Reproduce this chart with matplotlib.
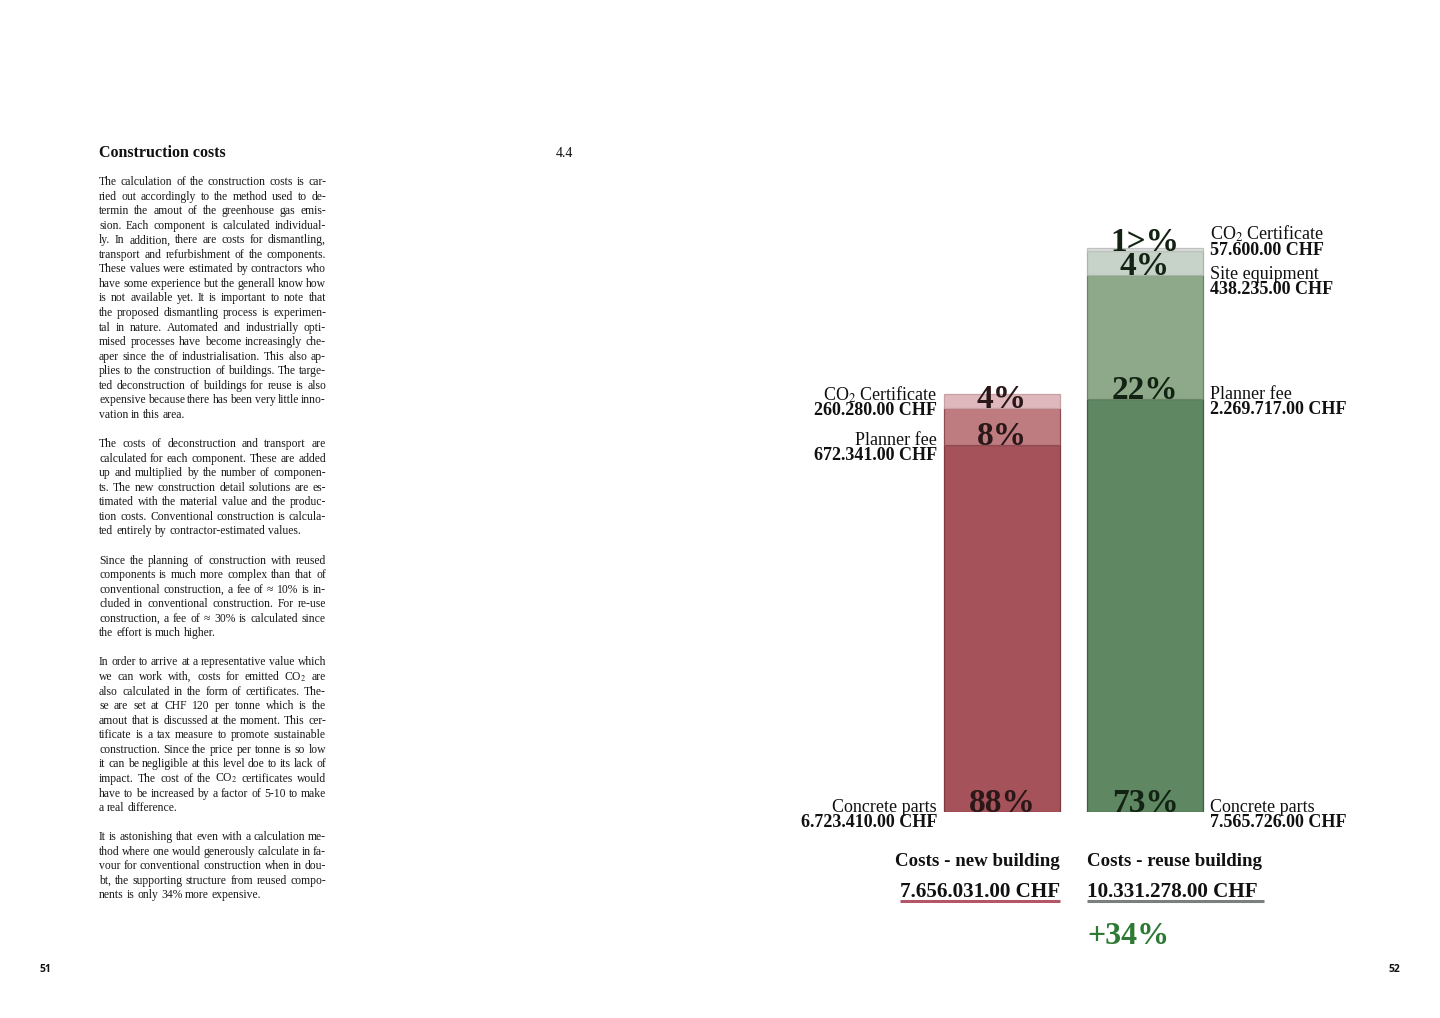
import matplotlib
matplotlib.use("Agg")
import matplotlib.pyplot as plt
from matplotlib.lines import Line2D
from matplotlib.transforms import IdentityTransform

plt.rcParams['mathtext.fontset'] = 'stix'

SERIF = 'Liberation Serif'
SANS = 'Open Sans'
W, H = 1440, 1018

# --- data -------------------------------------------------------------
new_parts = ["Concrete parts", "Planner fee", "CO$_2$ Certificate"]
new_costs = [6723410, 672341, 260280]
new_shares = ["88%", "8%", "4%"]

reuse_parts = ["Concrete parts", "Planner fee", "Site equipment", "CO$_2$ Certificate"]
reuse_costs = [7565726, 2269717, 438235, 57600]
reuse_shares = ["73%", "22%", "4%", "1>%"]

titles = ["Costs - new building", "Costs - reuse building"]
difference = "+34%"

heading = "Construction costs"
section = "4.4"
pages = ["51", "52"]

body = [
    "The calculation of the construction costs is car-",
    "ried out accordingly to the method used to de-",
    "termin the amout of the greenhouse gas emis-",
    "sion. Each component is calculated individual-",
    "ly. In addition, there are costs for dismantling,",
    "transport and refurbishment of the components.",
    "These values were estimated by contractors who",
    "have some experience but the generall know how",
    "is not available yet. It is important to note that",
    "the proposed dismantling process is experimen-",
    "tal in nature. Automated and industrially opti-",
    "mised processes have become increasingly che-",
    "aper since the of industrialisation. This also ap-",
    "plies to the construction of buildings. The targe-",
    "ted deconstruction of buildings for reuse is also",
    "expensive because there has been very little inno-",
    "vation in this area.",
    "",
    "The costs of deconstruction and transport are",
    "calculated for each component. These are added",
    "up and multiplied by the number of componen-",
    "ts. The new construction detail solutions are es-",
    "timated with the material value and the produc-",
    "tion costs. Conventional construction is calcula-",
    "ted entirely by contractor-estimated values.",
    "",
    "Since the planning of construction with reused",
    "components is much more complex than that of",
    "conventional construction, a fee of \u2248 10% is in-",
    "cluded in conventional construction. For re-use",
    "construction, a fee of \u2248 30% is calculated since",
    "the effort is much higher.",
    "",
    "In order to arrive at a representative value which",
    "we can work with, costs for emitted CO$_2$ are",
    "also calculated in the form of certificates. The-",
    "se are set at CHF 120 per tonne which is the",
    "amout that is discussed at the moment. This cer-",
    "tificate is a tax measure to promote sustainable",
    "construction. Since the price per tonne is so low",
    "it can be negligible at this level doe to its lack of",
    "impact. The cost of the CO$_2$ certificates would",
    "have to be increased by a factor of 5-10 to make",
    "a real difference.",
    "",
    "It is astonishing that even with a calculation me-",
    "thod where one would generously calculate in fa-",
    "vour for conventional construction when in dou-",
    "bt, the supporting structure from reused compo-",
    "nents is only 34% more expensive.",
]


def chf(v):
    return f"{v:,.2f}".replace(",", ".") + " CHF"


new_colors = ['#a6525a', '#be7c81', '#deb8bc']
reuse_colors = ['#5f8761', '#8ea98a', '#c7d2c8', '#dadddb']
new_edges = ['#7d3a41', '#8e4d53', '#c9a0a4']
reuse_edges = ['#3f5f42', '#6a8566', '#a9b5aa', '#bfc3c0']

fig = plt.figure(figsize=(W / 100, H / 100), dpi=100)
fig.patch.set_facecolor('white')


def fx(px):
    return px / W


def fy(py):
    return 1 - py / H


# --- bar chart ---------------------------------------------------------
base_px, top_px = 812, 200
scale = 418 / 7656031  # pixels per CHF
ax = fig.add_axes([fx(930.5), fy(812), fx(1216.5) - fx(930.5), fy(top_px) - fy(812)])
ax.set_xlim(-0.5, 1.5)
ax.set_ylim(0, (base_px - top_px) / scale)
ax.axis('off')

width = 0.811
groups = [
    (0, new_parts, new_costs, new_shares, new_colors, new_edges, [0, 0, 8], 'right', '#2a1718'),
    (1, reuse_parts, reuse_costs, reuse_shares, reuse_colors, reuse_edges, [0, 0, -4, 11], 'left', '#132313'),
]

for x, parts, costs, shares, colors, edges, nudges, side, pct_color in groups:
    bottom = 0
    for part, cost, share, col, ec, dy in zip(parts, costs, shares, colors, edges, nudges):
        ax.bar(x, cost, bottom=bottom, width=width, color=col, edgecolor=ec, linewidth=0.9)
        ax.annotate(share, xy=(x, bottom), xytext=(0, 0), textcoords='offset pixels',
                    ha='center', va='baseline', fontsize=24, fontweight='bold',
                    family=SERIF, color=pct_color)
        if side == 'right':
            lx, dx = x - width / 2, -7
        else:
            lx, dx = x + width / 2, 7
        ax.annotate(part, xy=(lx, bottom), xytext=(dx, dy), textcoords='offset pixels',
                    ha=side, va='baseline', fontsize=13, family=SERIF, color='#111111')
        ax.annotate(chf(cost), xy=(lx, bottom), xytext=(dx, dy - 15), textcoords='offset pixels',
                    ha=side, va='baseline', fontsize=13, fontweight='bold', family=SERIF,
                    color='#111111')
        bottom += cost

# titles and totals under the bars
total_texts = []
for x, title, costs, side in [(0, titles[0], new_costs, 'right'), (1, titles[1], reuse_costs, 'left')]:
    ex = x + width / 2 if side == 'right' else x - width / 2
    ax.annotate(title, xy=(ex, 0), xytext=(0, -54), textcoords='offset pixels',
                ha=side, va='baseline', fontsize=13.6, fontweight='bold', family=SERIF,
                color='#111111')
    t = ax.annotate(chf(sum(costs)), xy=(ex, 0), xytext=(0, -85), textcoords='offset pixels',
                    ha=side, va='baseline', fontsize=15.2, fontweight='bold', family=SERIF,
                    color='#111111')
    total_texts.append(t)

ax.annotate(difference, xy=(1 - width / 2, 0), xytext=(0, -132), textcoords='offset pixels',
            ha='left', va='baseline', fontsize=23, fontweight='bold', family=SERIF,
            color='#2e7a34')

# --- left page text ------------------------------------------------------
fig.text(fx(99), fy(157), heading, fontsize=11.5, fontweight='bold', family=SERIF,
         color='#111111', va='baseline')
fig.text(fx(556), fy(157), section, fontsize=10, family=SERIF, color='#111111', va='baseline')
fig.text(fx(39), fy(972), pages[0], fontsize=7.5, fontweight='bold', family=SANS,
         color='#111111', va='baseline')
fig.text(fx(1400), fy(972), pages[1], fontsize=7.5, fontweight='bold', family=SANS,
         color='#111111', va='baseline', ha='right')

renderer = fig.canvas.get_renderer()
body_size = 8.4
x_left, x_right = 99, 326
line_gap = 14.56
first_base = 185

space_probe = fig.text(0, 0, "a a", fontsize=body_size, family=SERIF)
pair_probe = fig.text(0, 0, "aa", fontsize=body_size, family=SERIF)
space_w = space_probe.get_window_extent(renderer).width - pair_probe.get_window_extent(renderer).width
space_probe.remove()
pair_probe.remove()

for i, line in enumerate(body):
    if not line:
        continue
    y = first_base + i * line_gap
    last = i == len(body) - 1 or body[i + 1] == ""
    words = line.split()
    texts = [fig.text(0, fy(y), w, fontsize=body_size, family=SERIF, color='#1a1a1a',
                      va='baseline') for w in words]
    widths = [t.get_window_extent(renderer).width for t in texts]
    if last or len(words) == 1:
        gap = space_w
    else:
        gap = max((x_right - x_left - sum(widths)) / (len(words) - 1), 1.5)
    xpos = x_left
    for t, w in zip(texts, widths):
        t.set_x(fx(xpos))
        xpos += w + gap

# underlines under the totals
fig.canvas.draw()
for t, col, pad in zip(total_texts, ['#b4566a', '#7c807c'], [0, 6]):
    bb = t.get_window_extent(renderer)
    yline = H - 901
    fig.add_artist(Line2D([bb.x0, bb.x1 + pad], [yline, yline], transform=IdentityTransform(),
                          color=col, linewidth=2.2, solid_capstyle='butt'))

fig.savefig("out.png", dpi=100, facecolor='white')
